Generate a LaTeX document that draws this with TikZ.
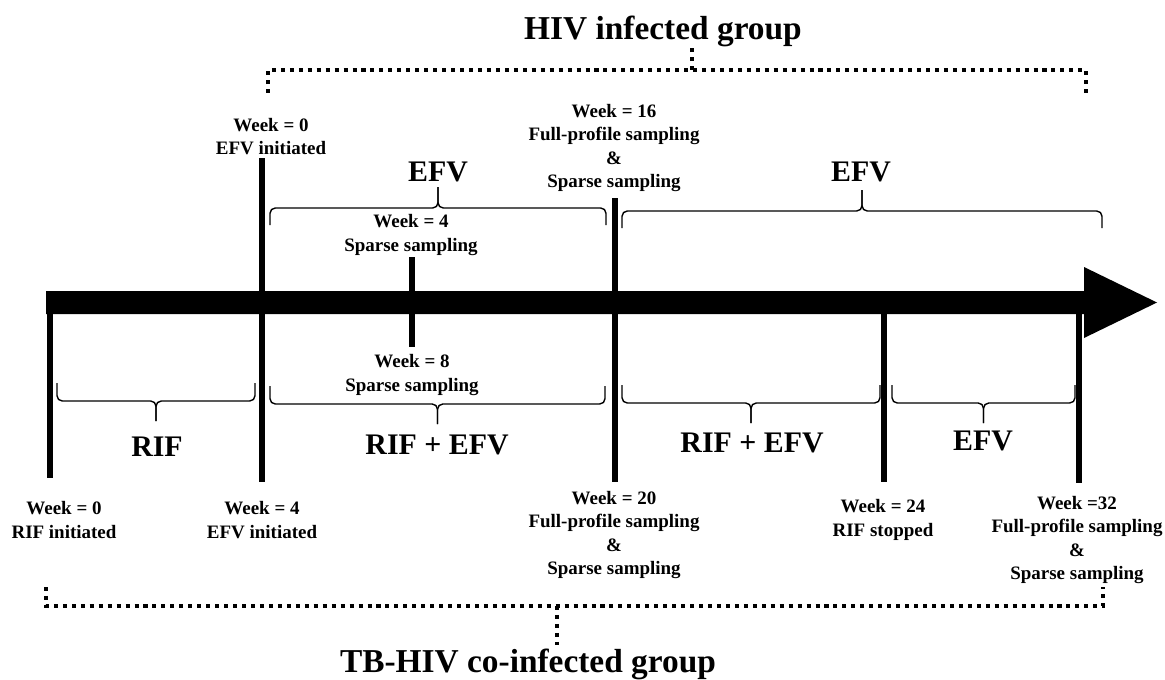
\documentclass[tikz,border=0pt]{standalone}
\usepackage{fontspec}
\setmainfont{Liberation Serif}

\begin{document}
\begin{tikzpicture}[x=0.02cm,y=-0.02cm,
  tickline/.style={line width=3.4pt},
  curly/.style={line width=0.8pt, rounded corners=3pt},
  grpline/.style={line width=2.3pt, dash pattern=on 2.3pt off 2.8pt},
  wk/.style={align=center, inner sep=0pt, font=\bfseries\fontsize{10.8}{13.2}\selectfont},
  drug/.style={inner sep=0pt, font=\bfseries\fontsize{17}{20}\selectfont},
  grp/.style={inner sep=0pt, anchor=base, font=\bfseries\fontsize{19}{22}\selectfont}]

\useasboundingbox (0,0) rectangle (1165,679);

% time line
\fill (46,291) -- (1084,291) -- (1084,267) -- (1157,302.5) -- (1084,338) -- (1084,314) -- (46,314) -- cycle;

 \foreach \x/\t/\b in {50/314/478, 262/158/482, 412/257/347, 615/198/482, 884/314/482, 1079/314/483}{%
     \draw[tickline] (\x,\t) -- (\x,\b);
  }

% braces above the line
 \foreach \a/\b/\y in {270/606/208, 622/1102/211}{%
     \draw[curly] (\a,\y+17) -- (\a,\y) -- ({(\a+\b)/2},\y) -- ({(\a+\b)/2},\y-21);
     \draw[curly] (\b,\y+17) -- (\b,\y) -- ({(\a+\b)/2},\y) -- ({(\a+\b)/2},\y-21);
  }

% braces below the line
 \foreach \a/\b/\y in {57/255/401, 270/605/404, 622/880/403, 892/1075/403}{%
     \draw[curly] (\a,\y-18) -- (\a,\y) -- ({(\a+\b)/2},\y) -- ({(\a+\b)/2},\y+20);
     \draw[curly] (\b,\y-18) -- (\b,\y) -- ({(\a+\b)/2},\y) -- ({(\a+\b)/2},\y+20);
  }

\node[drug] (efvA) at (438,172) {EFV};
\node[drug] (efvB) at (861,172) {EFV};
\node[drug] (rif) at (157,447) {RIF};
\node[drug] (rifefvA) at (437,445) {RIF + EFV};
\node[drug] (rifefvB) at (752,443) {RIF + EFV};
\node[drug] (efvC) at (983,441) {EFV};

% HIV infected group
\node[wk] (hiv0) at (271,136.5) {Week = 0\\EFV initiated};
\node[wk] (hiv4) at (411,235) {Week = 4\\Sparse sampling};
\node[wk] (hiv8) at (412,375) {Week = 8\\Sparse sampling};
\node[wk] (hiv16) at (614,148) {Week = 16\\Full-profile sampling\\\&\\Sparse sampling};

% TB-HIV co-infected group
\node[wk] (tb0) at (64,520) {Week = 0\\RIF initiated};
\node[wk] (tb4) at (262,520) {Week = 4\\EFV initiated};
\node[wk] (tb20) at (614,535) {Week = 20\\Full-profile sampling\\\&\\Sparse sampling};
\node[wk] (tb24) at (883,520) {Week = 24\\RIF stopped};
\node[wk] (tb32) at (1077,540) {Week =32\\Full-profile sampling\\\&\\Sparse sampling};

\draw[grpline] (268,93) -- (268,70) -- (1086,70) -- (1086,93);
\draw[grpline] (692,70) -- (692,47);
\node[grp] (hivgrp) at (663,40) {HIV infected group};

\draw[grpline] (46,587) -- (46,606) -- (1103,606) -- (1103,587);
\draw[grpline] (557,606) -- (557,645);
\node[grp] (tbgrp) at (528,672) {TB-HIV co-infected group};

%\draw[red] (0,0) rectangle (1165,679);

\end{tikzpicture}
\end{document}
